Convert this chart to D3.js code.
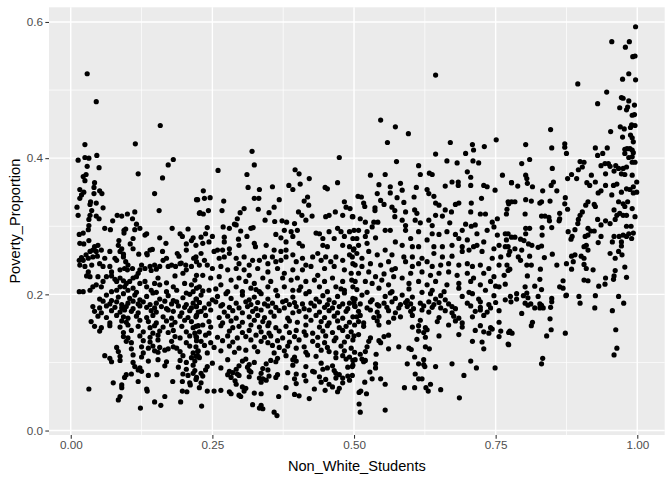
<!DOCTYPE html>
<html><head><meta charset="utf-8">
<script src="https://cdn.jsdelivr.net/npm/d3@7"></script>
<style>body{margin:0;background:#fff}svg{display:block}</style>
</head><body><svg id="chart" width="672" height="480"></svg>
<script>
// ---- data: [Non_White_Students, Poverty_Proportion] ----
const xTicks=[0,0.25,0.5,0.75,1];
const xTickLabels=["0.00","0.25","0.50","0.75","1.00"];
const yTicks=[0,0.2,0.4,0.6];
const yTickLabels=["0.0","0.2","0.4","0.6"];
const xMinor=[0.125,0.375,0.625,0.875];
const yMinor=[0.1,0.3,0.5];

const highPoints=[[.029,.524],[.045,.483],[.158,.448],[.025,.420],[.114,.421],[.046,.404],[.320,.410],
[.644,.522],[.547,.456],[.573,.446],[.596,.436],[.559,.423],[.644,.406],[.670,.423],[.709,.420],[.711,.412],[.697,.407],[.730,.417],[.751,.427],
[.997,.593],[.955,.571],[.986,.571],[.979,.563],[.992,.549],[.996,.550],[.985,.524],[.974,.516],[.997,.515],[.895,.509],[.946,.497],[.930,.480],[.972,.489],[.975,.488],[.985,.484],[.995,.478],[.969,.474],[.983,.475],[.981,.471],[.995,.464],[.991,.463],[.970,.446],[.977,.443],[.990,.449],[.996,.448],[.988,.445],[.847,.442],[.953,.439],[.974,.431],[.988,.434],[.991,.430],[.993,.424],[.803,.420],[.849,.415],[.872,.421],[.872,.416],[.875,.407],[.926,.415],[.947,.415],[.939,.407],[.930,.404],[.978,.413],[.982,.414],[.987,.414],[.991,.412],[.978,.407],[.993,.408]];

const leftMid=[[.013,.397],[.025,.401],[.032,.400],[.029,.388],[.050,.386],[.119,.377],[.172,.390],[.181,.398],[.162,.371],
[.022,.373],[.027,.376],[.025,.367],[.042,.364],[.041,.357],[.016,.354],[.023,.350],[.019,.346],[.041,.348],[.051,.352],[.055,.348],[.016,.341],[.035,.336],[.034,.332],[.045,.334],[.057,.327],[.011,.328],[.148,.348],[.156,.323],[.222,.339],[.227,.319],
[.037,.323],[.034,.316],[.013,.316],[.045,.315],[.050,.311],[.032,.310],[.082,.316],[.090,.315],[.100,.318],[.113,.321],[.109,.311],[.116,.303],[.074,.308],[.122,.297],[.113,.295],
[.032,.301],[.031,.295],[.022,.290],[.015,.288],[.060,.297],[.070,.295],[.094,.294],[.097,.296],[.094,.290],[.134,.289],[.131,.287],[.179,.297],[.207,.296],[.193,.289],[.197,.285],[.157,.283],[.216,.283],[.213,.279],[.168,.275],[.204,.274],
[.016,.275],[.023,.274],[.032,.279],[.110,.282],[.085,.279],[.084,.272],[.105,.274],[.110,.267],[.090,.267],[.087,.263],[.093,.259],[.069,.263],
[.042,.270],[.048,.272],[.039,.265],[.034,.263],[.045,.263],[.054,.265],[.027,.258],[.019,.254],[.015,.250],[.022,.250],[.031,.253],[.039,.255],[.047,.256],
[.140,.265],[.144,.266],[.134,.260],[.135,.258],[.120,.259],[.162,.263],[.169,.253],[.163,.250],[.188,.260],[.191,.256],[.204,.265],[.217,.253],[.222,.248],[.195,.246],[.203,.243],[.213,.241],
[.016,.243],[.025,.241],[.031,.233],[.028,.227],[.034,.226],[.037,.243],[.051,.245],[.057,.241],[.060,.253],[.078,.253],[.081,.250],[.093,.255],[.097,.248],[.101,.243],[.109,.238],[.100,.236],[.069,.241],[.072,.233],[.087,.236],[.095,.238],
[.125,.243],[.122,.236],[.131,.238],[.140,.241],[.148,.243],[.151,.237],[.142,.235],[.157,.241],[.172,.241],[.178,.243],[.185,.241],[.193,.245],[.204,.236],[.198,.231],[.184,.227],[.222,.228],[.219,.221],
[.063,.226],[.072,.227],[.078,.222],[.081,.219],[.087,.224],[.093,.220],[.098,.216],[.104,.219],[.110,.224],[.116,.226],[.119,.231],[.048,.226],[.057,.219],[.045,.214],[.039,.211],[.054,.211],[.034,.206],[.022,.204],[.015,.204],
[.087,.211],[.095,.211],[.101,.206],[.110,.209],[.122,.216],[.131,.219],[.134,.211],[.142,.206],[.148,.216],[.154,.224],[.157,.214],[.169,.217],[.181,.211],[.187,.206],[.201,.216],[.213,.214],[.216,.204],[.222,.209],[.081,.206],[.072,.204],[.116,.203],[.151,.203],[.169,.204],[.204,.202]];

const centerLeftMid=[[.474,.401],[.260,.382],[.324,.390],[.311,.376],[.396,.383],[.403,.377],[.421,.370],[.313,.357],[.333,.354],[.356,.358],[.385,.360],[.392,.354],[.405,.362],[.449,.357],[.453,.355],[.471,.364],
[.234,.352],[.224,.339],[.236,.341],[.246,.342],[.270,.337],[.324,.341],[.332,.341],[.368,.339],
[.228,.320],[.234,.318],[.243,.323],[.267,.323],[.299,.320],[.306,.326],[.331,.325],[.350,.320],[.359,.328],
[.418,.343],[.412,.337],[.420,.331],[.402,.321],[.408,.316],[.415,.309],[.426,.315],[.450,.314],[.456,.316],[.467,.321],[.483,.336],[.486,.328],[.493,.326],[.498,.314],[.480,.316],
[.294,.311],[.289,.303],[.343,.309],[.360,.307],[.373,.308],[.381,.306],[.395,.304],
[.269,.299],[.280,.297],[.292,.302],[.300,.293],[.318,.297],[.322,.298],[.311,.285],
[.241,.298],[.238,.289],[.230,.284],[.250,.285],[.244,.277],[.233,.275],[.221,.272],
[.271,.284],[.271,.277],[.259,.265],[.268,.265],[.280,.267],[.296,.281],[.297,.272],[.324,.275],[.326,.270],[.345,.272],
[.362,.288],[.371,.283],[.380,.277],[.389,.292],[.392,.285],[.400,.294],[.403,.275],[.409,.271],[.377,.294],[.359,.265],[.371,.263],[.380,.265],
[.433,.290],[.439,.289],[.445,.282],[.445,.272],[.453,.270],[.456,.292],[.465,.282],[.471,.297],[.477,.292],[.483,.285],[.492,.292],[.498,.282],[.480,.272],[.492,.270],[.499,.265],
[.221,.255],[.230,.260],[.236,.250],[.227,.243],[.241,.243],[.253,.263],[.262,.253],[.271,.255],[.280,.260],[.292,.253],[.297,.245],[.306,.255],[.315,.243],[.321,.250],[.333,.250],[.342,.255],[.348,.245],[.356,.255],[.362,.248],[.371,.250],[.380,.255],[.392,.258],[.398,.248],[.409,.253],[.415,.243],[.427,.255],[.436,.260],[.442,.250],[.450,.255],[.459,.248],[.468,.255],[.480,.250],[.492,.258],[.498,.245],
[.250,.238],[.265,.241],[.277,.236],[.292,.238],[.306,.236],[.315,.228],[.330,.238],[.348,.233],[.365,.238],[.377,.231],[.392,.236],[.409,.236],[.424,.241],[.436,.228],[.448,.238],[.465,.241],[.483,.236],[.495,.231],
[.233,.228],[.247,.224],[.262,.226],[.283,.221],[.297,.224],[.309,.219],[.324,.216],[.339,.224],[.353,.219],[.374,.224],[.389,.221],[.400,.224],[.415,.219],[.430,.221],[.448,.219],[.462,.224],[.480,.219],[.496,.221],
[.227,.211],[.244,.206],[.265,.214],[.277,.204],[.292,.211],[.303,.204],[.318,.209],[.333,.204],[.348,.211],[.362,.206],[.377,.211],[.392,.206],[.406,.211],[.421,.204],[.439,.211],[.453,.204],[.468,.211],[.483,.206],[.498,.211],
[.233,.205],[.256,.208],[.327,.207],[.403,.206],[.477,.208]];

const centerRightMid=[[.575,.395],[.614,.389],[.664,.396],[.682,.393],[.710,.396],[.720,.393],
[.529,.375],[.555,.376],[.617,.376],[.633,.378],[.638,.376],[.700,.380],[.706,.372],[.762,.375],
[.544,.361],[.564,.358],[.582,.363],[.585,.353],[.564,.349],[.610,.357],[.629,.354],[.661,.359],[.673,.365],[.684,.365],[.684,.360],[.706,.360],[.729,.360],[.735,.358],[.749,.353],[.778,.364],
[.507,.344],[.513,.343],[.541,.348],[.547,.338],[.553,.332],[.576,.342],[.588,.335],[.606,.343],[.632,.348],[.641,.344],[.644,.334],[.650,.331],[.685,.334],[.679,.332],[.707,.334],[.725,.341],[.773,.333],[.770,.325],
[.517,.334],[.519,.329],[.537,.327],[.537,.323],[.567,.328],[.572,.323],[.591,.321],[.607,.324],[.611,.319],[.644,.316],[.656,.315],[.661,.324],[.672,.321],[.706,.321],[.723,.318],[.732,.318],[.769,.318],
[.497,.314],[.511,.311],[.520,.306],[.535,.306],[.542,.306],[.572,.314],[.585,.309],[.591,.301],[.608,.309],[.617,.305],[.632,.309],[.638,.301],[.669,.305],[.697,.303],[.714,.302],[.744,.306],[.753,.311],[.747,.299],
[.500,.294],[.508,.294],[.523,.292],[.532,.299],[.555,.294],[.564,.294],[.591,.294],[.614,.292],[.638,.289],[.650,.288],[.664,.292],[.679,.288],[.691,.294],[.707,.300],[.717,.289],[.735,.294],[.753,.287],[.767,.289],
[.505,.282],[.520,.285],[.538,.283],[.523,.275],[.508,.272],[.500,.267],[.573,.277],[.585,.272],[.600,.282],[.603,.270],[.614,.270],[.629,.280],[.641,.270],[.656,.270],[.673,.272],[.685,.282],[.691,.270],[.700,.280],[.717,.272],[.729,.277],[.747,.267],[.756,.272],[.769,.280],[.767,.270],
[.497,.255],[.505,.260],[.514,.253],[.526,.263],[.541,.258],[.555,.265],[.567,.258],[.588,.255],[.603,.255],[.620,.253],[.641,.260],[.656,.255],[.673,.256],[.691,.263],[.703,.265],[.711,.270],[.726,.263],[.744,.253],[.759,.255],[.773,.258],
[.502,.243],[.514,.241],[.529,.245],[.547,.243],[.561,.248],[.573,.238],[.591,.248],[.603,.241],[.614,.245],[.629,.248],[.638,.241],[.653,.243],[.667,.245],[.685,.243],[.700,.245],[.709,.241],[.723,.243],[.738,.238],[.756,.243],[.770,.243],
[.508,.231],[.526,.233],[.538,.226],[.553,.230],[.567,.236],[.570,.226],[.585,.224],[.600,.231],[.620,.233],[.635,.228],[.650,.231],[.667,.233],[.682,.228],[.700,.231],[.711,.224],[.729,.231],[.747,.226],[.765,.228],
[.502,.219],[.520,.219],[.532,.216],[.549,.221],[.561,.214],[.597,.216],[.614,.219],[.629,.214],[.644,.219],[.664,.214],[.685,.216],[.706,.219],[.723,.214],[.741,.219],[.756,.211],
[.505,.207],[.523,.203],[.544,.209],[.567,.204],[.597,.208],[.620,.203],[.638,.206],[.659,.204],[.685,.209],[.703,.203],[.732,.206],[.750,.212],[.767,.215]];

const rightMid=[[.985,.401],[.991,.402],
[.796,.392],[.810,.398],[.850,.385],[.899,.395],[.906,.394],[.903,.387],[.896,.383],[.884,.376],[.877,.370],[.893,.370],[.919,.375],[.936,.389],[.943,.392],[.949,.392],[.952,.388],[.962,.389],[.959,.381],[.967,.385],[.975,.385],[.981,.387],[.991,.394],[.996,.394],[.972,.377],[.978,.376],[.991,.375],[.944,.377],[.803,.375],[.805,.370],
[.778,.364],[.789,.359],[.806,.363],[.815,.358],[.833,.352],[.848,.360],[.852,.365],[.858,.352],[.911,.364],[.916,.360],[.926,.365],[.944,.360],[.931,.349],[.936,.352],[.955,.346],[.958,.360],[.964,.362],[.972,.350],[.981,.355],[.987,.354],[.993,.358],[.999,.365],[.999,.350],[.993,.349],
[.772,.336],[.778,.336],[.784,.336],[.803,.339],[.813,.337],[.828,.334],[.831,.336],[.846,.337],[.873,.342],[.872,.333],[.877,.325],[.913,.336],[.909,.331],[.924,.332],[.926,.329],[.903,.321],[.899,.316],[.959,.324],[.967,.336],[.975,.333],[.978,.329],[.983,.336],[.991,.326],[.964,.316],[.969,.319],[.975,.316],[.981,.316],[.996,.314],
[.802,.318],[.831,.315],[.837,.315],[.844,.313],[.845,.308],[.863,.319],[.863,.311],[.862,.308],[.896,.310],[.895,.304],[.930,.310],[.936,.302],[.944,.308],[.952,.304],[.961,.310],[.981,.300],[.989,.300],
[.772,.289],[.803,.297],[.810,.297],[.832,.298],[.849,.298],[.803,.289],[.832,.287],[.878,.292],[.890,.295],[.885,.285],[.883,.281],[.913,.297],[.918,.293],[.924,.293],[.908,.285],[.913,.287],[.936,.285],[.959,.285],[.968,.285],[.975,.287],[.981,.285],[.985,.289],[.993,.290],[.990,.282],[.972,.277],[.956,.277],
[.778,.284],[.784,.284],[.794,.281],[.800,.279],[.808,.274],[.814,.272],[.825,.269],[.831,.271],[.772,.270],[.784,.267],[.796,.265],[.775,.263],[.790,.255],[.794,.250],[.810,.256],[.836,.254],[.850,.259],[.884,.256],[.890,.258],[.901,.256],[.906,.270],[.910,.272],[.913,.265],[.906,.253],[.931,.276],[.952,.260],[.961,.253],[.967,.263],[.973,.258],[.972,.271],
[.805,.243],[.813,.243],[.829,.237],[.858,.243],[.875,.245],[.887,.248],[.884,.237],[.906,.244],[.910,.238],[.922,.236],[.961,.235],[.978,.240],[.775,.237],[.772,.235],
[.806,.227],[.828,.222],[.819,.212],[.802,.211],[.831,.207],[.869,.220],[.863,.211],[.869,.209],[.906,.221],[.913,.220],[.944,.224],[.943,.215],[.959,.227],[.958,.222],[.981,.225],[.932,.212],[.787,.201],[.805,.202],[.875,.199]];

const leftLow=[[.051,.193],[.063,.199],[.072,.191],[.084,.196],[.093,.201],[.104,.194],[.113,.199],[.122,.192],[.134,.197],[.145,.202],[.157,.193],[.172,.198],[.181,.191],[.198,.195],[.210,.200],[.222,.193],
[.057,.190],[.069,.186],[.081,.189],[.090,.185],[.101,.187],[.110,.190],[.119,.186],[.128,.189],[.140,.185],[.151,.187],[.166,.190],[.178,.186],[.187,.189],[.204,.185],[.216,.187],[.227,.188],
[.039,.182],[.051,.180],[.063,.183],[.078,.181],[.090,.180],[.098,.182],[.110,.179],[.122,.183],[.134,.181],[.148,.180],[.160,.182],[.169,.179],[.190,.183],[.201,.181],[.213,.180],[.222,.182],
[.042,.175],[.054,.173],[.072,.176],[.087,.174],[.095,.177],[.107,.175],[.119,.173],[.142,.176],[.151,.174],[.172,.177],[.181,.175],[.196,.173],[.210,.176],[.225,.174],
[.048,.168],[.063,.166],[.081,.169],[.093,.167],[.101,.165],[.116,.168],[.134,.166],[.145,.169],[.163,.167],[.178,.165],[.193,.168],[.207,.166],[.222,.169],
[.036,.160],[.069,.158],[.090,.161],[.098,.159],[.122,.162],[.137,.160],[.151,.158],[.169,.161],[.184,.159],[.201,.162],[.213,.160],
[.042,.153],[.054,.151],[.069,.154],[.087,.152],[.101,.155],[.119,.153],[.140,.151],[.148,.154],[.163,.152],[.178,.155],[.196,.153],[.216,.151],[.225,.154],
[.051,.146],[.093,.144],[.107,.147],[.128,.145],[.145,.143],[.157,.146],[.172,.144],[.181,.147],[.204,.145],[.219,.143],
[.093,.138],[.101,.136],[.122,.139],[.140,.137],[.154,.140],[.184,.138],[.193,.136],[.210,.139],[.222,.137],
[.098,.131],[.107,.129],[.128,.132],[.140,.130],[.154,.133],[.178,.131],[.204,.129],[.222,.132],
[.081,.122],[.107,.120],[.125,.123],[.137,.121],[.145,.124],[.157,.122],[.172,.120],[.181,.123],[.187,.121],[.210,.124],
[.084,.116],[.128,.114],[.148,.117],[.154,.115],[.166,.118],[.193,.116],[.216,.114],[.225,.117],
[.060,.110],[.069,.106],[.087,.109],[.110,.111],[.125,.108],[.198,.110],[.213,.107],[.225,.109],
[.072,.101],[.087,.103],[.110,.100],[.137,.102],[.154,.104],[.169,.101],[.193,.103],[.204,.100],[.219,.102],
[.113,.094],[.122,.092],[.166,.095],[.190,.093],[.216,.096],
[.119,.089],[.125,.087],[.204,.090],[.219,.088],
[.098,.082],[.107,.083],[.137,.081],[.152,.082],[.198,.083],[.207,.081],[.216,.084],
[.095,.078],[.222,.078],[.119,.072],[.180,.072],[.197,.072],[.210,.070],
[.075,.070],[.090,.067],[.211,.067],[.090,.063],[.032,.061],[.134,.061],[.135,.058],[.197,.058],[.205,.057],[.166,.050],[.087,.050],[.084,.045],[.148,.042],[.194,.042],[.159,.037],[.123,.033]];

const centerLeftLow=[[.221,.193],[.230,.199],[.250,.192],[.259,.197],[.274,.201],[.283,.194],[.303,.199],[.315,.192],[.324,.196],[.336,.201],[.348,.193],[.365,.198],[.380,.191],[.392,.196],[.415,.201],[.433,.193],[.445,.198],[.456,.192],[.471,.197],[.483,.202],[.498,.194],
[.227,.188],[.244,.186],[.256,.189],[.268,.185],[.292,.187],[.309,.189],[.318,.185],[.330,.188],[.342,.186],[.356,.187],[.374,.189],[.386,.185],[.395,.188],[.409,.186],[.424,.187],[.439,.189],[.453,.185],[.465,.188],[.480,.186],[.492,.187],
[.221,.182],[.236,.180],[.265,.183],[.280,.181],[.297,.180],[.312,.182],[.327,.179],[.348,.183],[.362,.181],[.377,.180],[.398,.182],[.412,.179],[.430,.183],[.448,.181],[.462,.180],[.474,.182],[.489,.179],[.501,.183],
[.230,.175],[.247,.177],[.271,.174],[.286,.176],[.303,.173],[.321,.175],[.336,.177],[.353,.174],[.368,.176],[.392,.173],[.403,.175],[.421,.177],[.439,.174],[.456,.176],[.471,.173],[.486,.175],
[.221,.167],[.238,.169],[.262,.166],[.277,.168],[.292,.165],[.315,.167],[.330,.169],[.342,.166],[.359,.168],[.383,.165],[.415,.167],[.433,.169],[.448,.166],[.465,.168],[.480,.165],[.498,.167],
[.244,.160],[.268,.158],[.283,.161],[.303,.159],[.324,.162],[.339,.160],[.350,.158],[.386,.161],[.400,.159],[.424,.162],[.442,.160],[.456,.158],[.471,.161],[.492,.159],
[.221,.153],[.233,.155],[.247,.152],[.265,.154],[.286,.151],[.297,.153],[.318,.155],[.333,.152],[.348,.154],[.362,.151],[.380,.153],[.415,.155],[.439,.152],[.453,.154],[.474,.151],[.486,.153],[.501,.155],
[.227,.145],[.244,.143],[.280,.146],[.303,.144],[.315,.147],[.336,.145],[.350,.143],[.368,.146],[.386,.144],[.398,.147],[.412,.145],[.427,.143],[.445,.146],[.462,.144],[.480,.147],[.495,.145],
[.221,.138],[.238,.140],[.259,.137],[.277,.139],[.294,.136],[.309,.138],[.327,.140],[.342,.137],[.353,.139],[.374,.136],[.395,.138],[.415,.140],[.436,.137],[.450,.139],[.468,.136],[.489,.138],
[.230,.131],[.247,.129],[.268,.132],[.286,.130],[.318,.133],[.336,.131],[.348,.129],[.365,.132],[.386,.130],[.403,.133],[.427,.131],[.448,.129],[.465,.132],[.483,.130],[.498,.133],
[.221,.123],[.236,.125],[.253,.122],[.280,.124],[.297,.121],[.324,.123],[.356,.125],[.368,.122],[.383,.124],[.398,.121],[.412,.123],[.436,.125],[.453,.122],[.477,.124],[.495,.121],
[.224,.116],[.241,.114],[.265,.117],[.289,.115],[.309,.118],[.330,.116],[.359,.114],[.377,.117],[.415,.115],[.442,.118],[.456,.116],[.468,.114],[.483,.117],[.501,.115],
[.221,.109],[.227,.107],[.380,.110],[.395,.108],[.418,.111],[.433,.109],[.468,.107],[.480,.110],[.492,.108],
[.277,.104],[.303,.102],[.309,.105],[.353,.103],[.365,.106],[.392,.104],[.398,.102],[.486,.105],[.498,.103],
[.250,.099],[.315,.097],[.324,.100],[.345,.098],[.362,.101],[.442,.099],
[.241,.094],[.265,.092],[.297,.095],[.312,.093],[.392,.096],[.415,.094],[.453,.092],[.462,.095],[.489,.093],[.498,.096],
[.238,.089],[.280,.087],[.292,.090],[.315,.088],[.339,.091],[.348,.089],[.427,.087],[.445,.090],[.465,.088],
[.230,.084],[.277,.082],[.286,.085],[.294,.083],[.318,.086],[.336,.084],[.365,.082],[.383,.085],[.398,.083],[.430,.086],[.468,.084],[.474,.082],
[.233,.080],[.283,.078],[.297,.081],[.315,.079],[.333,.077],[.350,.080],[.362,.078],[.412,.081],[.439,.079],[.480,.077],[.489,.080],
[.221,.075],[.290,.073],[.339,.076],[.345,.074],[.395,.076],[.415,.073],[.450,.075],[.468,.077],[.492,.074],
[.230,.070],[.292,.068],[.336,.071],[.398,.069],[.442,.071],[.456,.068],[.480,.070],
[.227,.063],[.309,.062],[.303,.064],[.380,.063],[.430,.061],[.462,.064],[.474,.062],
[.241,.058],[.253,.058],[.265,.059],[.280,.057],[.306,.058],[.449,.059],[.471,.057],
[.283,.054],[.297,.052],[.324,.055],[.336,.054],[.395,.053],[.403,.051],
[.300,.050],[.367,.050],[.421,.047],[.321,.038],[.336,.037],[.231,.036],[.333,.033],[.339,.032],[.359,.027],[.364,.022]];

const centerRightLow=[[.502,.193],[.514,.199],[.532,.192],[.555,.197],[.564,.202],[.573,.194],[.585,.199],[.594,.191],[.603,.196],[.635,.201],[.644,.193],[.653,.198],[.661,.192],[.691,.197],[.709,.201],[.720,.193],[.747,.198],[.767,.192],[.776,.197],
[.500,.188],[.511,.186],[.529,.189],[.541,.185],[.553,.187],[.567,.189],[.582,.185],[.591,.188],[.600,.186],[.617,.187],[.632,.189],[.641,.185],[.650,.188],[.667,.186],[.700,.187],[.723,.189],[.738,.185],[.750,.188],
[.502,.182],[.523,.180],[.544,.183],[.558,.181],[.579,.180],[.594,.182],[.605,.179],[.623,.183],[.638,.181],[.653,.180],[.673,.182],[.679,.179],[.706,.183],[.723,.181],[.741,.180],
[.508,.175],[.529,.177],[.541,.174],[.561,.176],[.573,.173],[.600,.175],[.620,.177],[.632,.174],[.661,.176],[.673,.173],[.714,.175],[.723,.177],[.735,.174],[.756,.176],
[.505,.167],[.511,.169],[.535,.166],[.544,.168],[.570,.165],[.582,.167],[.603,.169],[.650,.166],[.676,.168],[.685,.165],[.709,.167],[.729,.169],
[.508,.160],[.517,.158],[.541,.161],[.561,.159],[.617,.162],[.647,.160],[.691,.158],[.679,.161],[.756,.159],
[.517,.153],[.544,.155],[.603,.152],[.614,.154],[.626,.151],[.629,.148],[.667,.155],[.691,.152],[.723,.154],[.741,.151],[.744,.149],
[.614,.146],[.623,.144],[.714,.147],[.729,.145],[.738,.143],[.759,.146],[.773,.144],
[.500,.139],[.508,.141],[.553,.138],[.561,.140],[.626,.137],[.650,.139],[.685,.141],[.756,.138],
[.529,.136],[.611,.134],[.526,.131],[.544,.132],[.547,.129],[.709,.131],[.726,.130],[.773,.126],[.523,.123],[.579,.123],[.626,.123],[.561,.120],[.597,.121],[.601,.119],[.633,.120],[.729,.120],[.520,.116],[.511,.112],[.539,.112],[.607,.108],[.502,.104],[.514,.105],[.520,.103],[.623,.104],[.517,.101],[.706,.102],[.538,.098],[.594,.098],[.614,.098],[.623,.097],[.673,.098],[.497,.094],[.625,.094],[.644,.094],[.538,.092],[.716,.092],[.749,.092],[.528,.086],[.608,.083],[.497,.081],[.694,.081],[.532,.076],[.547,.076],[.614,.076],[.620,.076],[.519,.071],[.555,.068],[.635,.068],[.589,.063],[.607,.063],[.627,.063],[.653,.060],[.631,.058],[.512,.058],[.522,.054],[.509,.056],[.686,.048],[.509,.039],[.555,.030],[.511,.027]];

const rightLow=[[.787,.193],[.799,.198],[.807,.195],[.825,.197],[.849,.194],[.874,.198],[.897,.197],[.926,.198],[.967,.197],[.777,.189],[.849,.189],[.802,.187],[.812,.186],[.828,.186],[.899,.187],[.976,.187],[.807,.184],[.831,.184],[.819,.180],[.828,.180],[.834,.180],[.847,.181],[.925,.180],[.956,.176],[.796,.172],[.846,.164],[.815,.159],[.813,.154],[.962,.148],[.848,.148],[.775,.146],[.779,.143],[.873,.143],[.840,.139],[.772,.127],[.964,.121],[.959,.111],[.833,.106],[.831,.098]];

const points=[].concat(highPoints,leftMid,centerLeftMid,centerRightMid,rightMid,leftLow,centerLeftLow,centerRightLow,rightLow);

// ---- layout (ggplot2 theme_grey look) ----
const svg=d3.select("#chart");
const panel={left:49,right:664.7,top:7.3,bottom:435};
const font="'Liberation Sans', Arial, Helvetica, sans-serif";

function expand(ext){const p=(ext[1]-ext[0])*0.05;return [ext[0]-p,ext[1]+p];}
const x=d3.scaleLinear().domain(expand(d3.extent(points,d=>d[0]))).range([panel.left,panel.right]);
const y=d3.scaleLinear().domain(expand(d3.extent(points,d=>d[1]))).range([panel.bottom,panel.top]);

svg.append("rect").attr("x",0).attr("y",0).attr("width",672).attr("height",480).attr("fill","#fff");
svg.append("rect").attr("x",panel.left).attr("y",panel.top)
  .attr("width",panel.right-panel.left).attr("height",panel.bottom-panel.top).attr("fill","#EBEBEB");

const grid=svg.append("g");
grid.selectAll(".xm").data(xMinor).join("line")
  .attr("x1",d=>x(d)).attr("x2",d=>x(d)).attr("y1",panel.top).attr("y2",panel.bottom)
  .attr("stroke","#fff").attr("stroke-width",0.71);
grid.selectAll(".ym").data(yMinor).join("line")
  .attr("y1",d=>y(d)).attr("y2",d=>y(d)).attr("x1",panel.left).attr("x2",panel.right)
  .attr("stroke","#fff").attr("stroke-width",0.71);
grid.selectAll(".xM").data(xTicks).join("line")
  .attr("x1",d=>x(d)).attr("x2",d=>x(d)).attr("y1",panel.top).attr("y2",panel.bottom)
  .attr("stroke","#fff").attr("stroke-width",1.42);
grid.selectAll(".yM").data(yTicks).join("line")
  .attr("y1",d=>y(d)).attr("y2",d=>y(d)).attr("x1",panel.left).attr("x2",panel.right)
  .attr("stroke","#fff").attr("stroke-width",1.42);

svg.append("g").selectAll("circle").data(points).join("circle")
  .attr("cx",d=>x(d[0])).attr("cy",d=>y(d[1])).attr("r",2.6).attr("fill","#000");

const xAxis=svg.append("g").attr("transform",`translate(0,${panel.bottom})`)
  .call(d3.axisBottom(x).tickValues(xTicks).tickFormat((d,i)=>xTickLabels[i]).tickSize(3.67).tickPadding(2.4));
const yAxis=svg.append("g").attr("transform",`translate(${panel.left},0)`)
  .call(d3.axisLeft(y).tickValues(yTicks).tickFormat((d,i)=>yTickLabels[i]).tickSize(3.67).tickPadding(2.4));
[xAxis,yAxis].forEach(a=>{
  a.select(".domain").remove();
  a.selectAll(".tick line").attr("stroke","#333333").attr("stroke-width",1.07);
  a.selectAll(".tick text").attr("fill","#4D4D4D").style("font-family",font).style("font-size","11.7px");
});

svg.append("text").attr("x",(panel.left+panel.right)/2).attr("y",471)
  .attr("text-anchor","middle").style("font-family",font).style("font-size","14.6px").attr("fill","#000")
  .text("Non_White_Students");
svg.append("text").attr("transform",`translate(20,${(panel.top+panel.bottom)/2}) rotate(-90)`)
  .attr("text-anchor","middle").style("font-family",font).style("font-size","14.6px").attr("fill","#000")
  .text("Poverty_Proportion");
</script></body></html>
